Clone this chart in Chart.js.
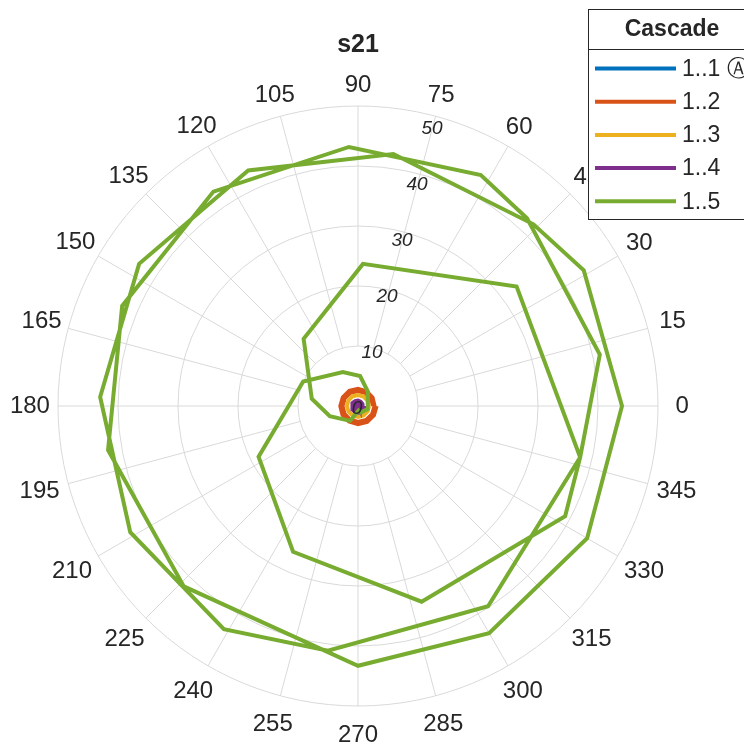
<!DOCTYPE html>
<html>
<head>
<meta charset="utf-8">
<script src="https://cdn.jsdelivr.net/npm/chart.js@4.4.1/dist/chart.umd.min.js"></script>
<style>
html,body{margin:0;padding:0;background:#fff;overflow:hidden;}
canvas{display:block;}
</style>
</head>
<body>
<canvas id="c" width="744" height="747"></canvas>
<script>
// ---- data (theta in degrees, r in data units) ----
const chartTitle = 's21';
const legendTitle = 'Cascade';
const seriesNames = ['1..1 \u24B6', '1..2', '1..3', '1..4', '1..5'];
const seriesColors = ['#0072BD', '#D95319', '#EDB120', '#7E2F8E', '#77AC30'];

const rTicks = [0, 10, 20, 30, 40, 50];
const thetaTicks = [0, 15, 30, 45, 60, 75, 90, 105, 120, 135, 150, 165, 180, 195, 210, 225, 240, 255, 270, 285, 300, 315, 330, 345];

const blueTheta = [0, 300, 240, 180, 120, 60, 0];
const blueR = [0.2, 0.2, 0.2, 0.2, 0.2, 0.2, 0.2];

const orangeTheta = [0, 330, 300, 270, 240, 210, 180, 150, 120, 90, 60, 30, 0, 330, 300, 270, 240, 210, 180, 150, 120, 90, 60, 30, 0];
const orangeR = [3.1, 3.08, 3.05, 3.03, 3.0, 2.98, 2.95, 2.92, 2.9, 2.86, 2.82, 2.8, 2.76, 2.72, 2.7, 2.66, 2.62, 2.6, 2.58, 2.55, 2.52, 2.5, 2.5, 2.48, 2.48];

const yellowTheta = [0, 330, 300, 270, 240, 210, 180, 150, 120, 90, 60, 30, 0];
const yellowR = [1.85, 1.84, 1.83, 1.82, 1.82, 1.83, 1.84, 1.85, 1.85, 1.84, 1.83, 1.84, 1.85];

const purpleTheta = [0, 330, 300, 270, 240, 210, 180, 150, 120, 90, 60, 30, 0, 330, 300, 270, 240, 210, 180, 150, 120, 90, 60, 30, 0];
const purpleR = [1.2, 1.2, 1.15, 1.12, 1.1, 1.05, 1.0, 0.98, 0.95, 0.9, 0.85, 0.8, 0.75, 0.7, 0.66, 0.62, 0.58, 0.55, 0.5, 0.46, 0.42, 0.38, 0.35, 0.3, 0.28];

const greenTheta = [300, 242, 200, 171, 129, 88, 37, 347, 303, 263, 239, 209, 178, 147, 115, 82,
                    46, 31, 0, 330, 300, 270, 226, 190, 157, 124, 92,
                    62, 48, 12, 347, 332, 288, 246, 207, 156, 114, 86, 55, 343, 280];
const greenR = [0.6, 2.8, 5.0, 7.8, 14.4, 23.7, 33.1, 38.0, 39.8, 41.1, 43.4, 43.4, 43.0, 43.5, 43.3, 42.4,
                42.1, 43.9, 44.0, 44.1, 43.7, 43.3, 41.8, 42.3, 42.7, 43.1, 43.2,
                43.6, 42.1, 41.2, 38.0, 39.1, 34.3, 26.6, 18.6, 10.0, 6.2, 5.0, 2.9, 1.7, 1.2];

const allTheta = [blueTheta, orangeTheta, yellowTheta, purpleTheta, greenTheta];
const allR = [blueR, orangeR, yellowR, purpleR, greenR];

const rMax = 50;
const FONT = '"Liberation Sans", Arial, Helvetica, sans-serif';

function toXY(th, r) {
  return th.map((t, i) => {
    const a = t * Math.PI / 180;
    return { x: r[i] * Math.cos(a), y: r[i] * Math.sin(a) };
  });
}

const datasets = seriesNames.map((name, i) => ({
  label: name,
  data: toXY(allTheta[i], allR[i]),
  showLine: true,
  borderColor: seriesColors[i],
  backgroundColor: seriesColors[i],
  borderWidth: 4,
  pointRadius: 0,
  pointHoverRadius: 0,
  fill: false,
  tension: 0,
  borderJoinStyle: 'miter',
  order: seriesNames.length - 1 - i,
  clip: false
}));

const polarPlugin = {
  id: 'polarPlugin',
  beforeDatasetsDraw(chart) {
    const { ctx, scales: { x, y } } = chart;
    const cx = x.getPixelForValue(0), cy = y.getPixelForValue(0);
    const rp = v => x.getPixelForValue(v) - cx;
    ctx.save();
    ctx.strokeStyle = '#d9d9d9';
    ctx.lineWidth = 1;
    rTicks.slice(1).forEach(v => {
      ctx.beginPath();
      ctx.arc(cx, cy, rp(v), 0, 2 * Math.PI);
      ctx.stroke();
    });
    const r0 = rp(rTicks[1]), r1 = rp(rMax);
    thetaTicks.forEach(t => {
      const a = t * Math.PI / 180;
      ctx.beginPath();
      ctx.moveTo(cx + r0 * Math.cos(a), cy - r0 * Math.sin(a));
      ctx.lineTo(cx + r1 * Math.cos(a), cy - r1 * Math.sin(a));
      ctx.stroke();
    });
    ctx.restore();
  },
  afterDatasetsDraw(chart) {
    const { ctx, scales: { x, y } } = chart;
    const cx = x.getPixelForValue(0), cy = y.getPixelForValue(0);
    const rp = v => x.getPixelForValue(v) - cx;
    ctx.save();
    // angle labels
    ctx.fillStyle = '#262626';
    ctx.font = '24px ' + FONT;
    ctx.textAlign = 'center';
    ctx.textBaseline = 'middle';
    thetaTicks.forEach(t => {
      const a = t * Math.PI / 180;
      const c = Math.cos(a), s = Math.sin(a);
      const w = ctx.measureText(String(t)).width;
      const d = rp(rMax) + 21 + 3 * c * c + 0.15 * (w - 13) * c * c + (s < 0 ? 8 * Math.abs(s) : 0);
      ctx.fillText(String(t), cx + d * c, cy - d * s);
    });
    // radial labels
    ctx.font = 'italic 19px ' + FONT;
    const ra = 75 * Math.PI / 180;
    rTicks.forEach(v => {
      const d = rp(v) * 0.967;
      ctx.fillText(String(v), cx + d * Math.cos(ra) - 1, cy - d * Math.sin(ra) + 3);
    });
    // title
    ctx.font = 'bold 25px ' + FONT;
    ctx.fillText(chartTitle, cx, 45);
    // legend
    const lx = 588.5, ly = 9.5, lw = 170, lh = 210;
    ctx.fillStyle = '#ffffff';
    ctx.fillRect(lx, ly, lw, lh);
    ctx.strokeStyle = '#262626';
    ctx.lineWidth = 1;
    ctx.strokeRect(lx, ly, lw, lh);
    ctx.beginPath();
    ctx.moveTo(lx, 49.5);
    ctx.lineTo(lx + lw, 49.5);
    ctx.stroke();
    ctx.fillStyle = '#262626';
    ctx.font = 'bold 23px ' + FONT;
    ctx.fillText(legendTitle, 672, 30);
    ctx.font = '23px ' + FONT + ', "DejaVu Sans"';
    ctx.textAlign = 'left';
    seriesNames.forEach((n, i) => {
      const yy = 68.5 + i * 33.2;
      ctx.strokeStyle = seriesColors[i];
      ctx.lineWidth = 4;
      ctx.beginPath();
      ctx.moveTo(595, yy);
      ctx.lineTo(676, yy);
      ctx.stroke();
      ctx.fillStyle = '#262626';
      ctx.fillText(n, 682, yy + 1);
    });
    ctx.restore();
  }
};

new Chart(document.getElementById('c'), {
  type: 'scatter',
  data: { datasets },
  options: {
    responsive: false,
    animation: false,
    devicePixelRatio: 1,
    layout: { padding: { left: 58, right: 86, top: 106, bottom: 41 } },
    scales: {
      x: { type: 'linear', min: -rMax, max: rMax, display: false },
      y: { type: 'linear', min: -rMax, max: rMax, display: false }
    },
    plugins: {
      legend: { display: false },
      title: { display: false },
      tooltip: { enabled: false }
    },
    events: []
  },
  plugins: [polarPlugin]
});
</script>
</body>
</html>
